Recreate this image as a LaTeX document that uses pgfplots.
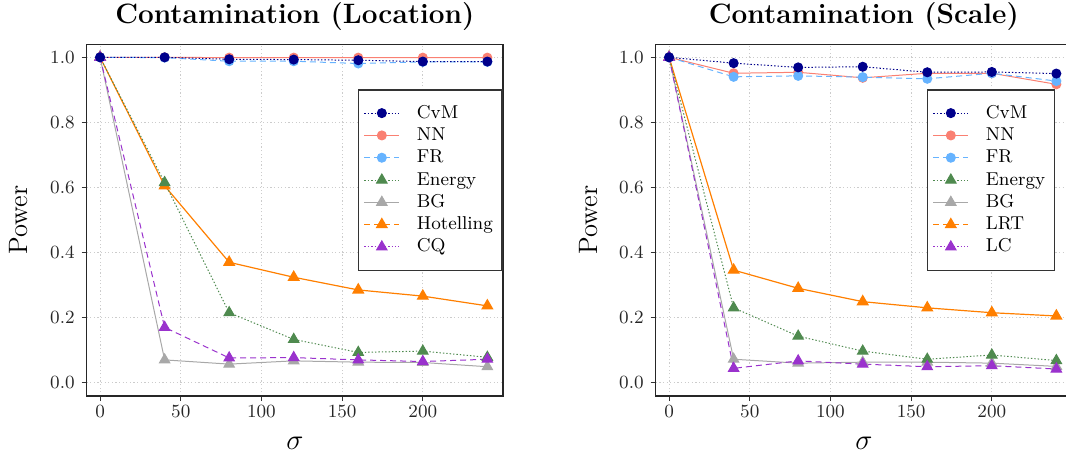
\documentclass[border=0pt]{standalone}
\usepackage{fontspec}
\usepackage{pgfplots}
\usepackage{pgfplotstable}
\pgfplotsset{compat=1.18}

\definecolor{cvmc}{HTML}{00008B}
\definecolor{nnc}{HTML}{FA8072}
\definecolor{frc}{HTML}{66B3FF}
\definecolor{enc}{HTML}{4F8A4F}
\definecolor{bgc}{HTML}{A8A8A8}
\definecolor{hoc}{HTML}{FF7F00}
\definecolor{cqc}{HTML}{9A32CD}

% power by sigma, location contamination
\pgfplotstableread{
s   CvM   NN    FR    En    BG    Ho    CQ
0   1.000 1.000 1.000 1.000 1.000 1.000 1.000
40  1.000 1.000 0.999 0.615 0.070 0.605 0.170
80  0.994 0.999 0.988 0.215 0.057 0.370 0.076
120 0.993 0.999 0.988 0.133 0.067 0.324 0.077
160 0.991 0.999 0.981 0.093 0.063 0.285 0.070
200 0.987 0.999 0.986 0.097 0.062 0.266 0.065
240 0.987 0.999 0.986 0.078 0.049 0.236 0.072
}\loc

% power by sigma, scale contamination
\pgfplotstableread{
s   CvM   NN    FR    En    BG    LRT   LC
0   1.000 1.000 1.000 1.000 1.000 1.000 1.000
40  0.982 0.951 0.940 0.230 0.072 0.346 0.044
80  0.969 0.954 0.943 0.143 0.060 0.290 0.067
120 0.971 0.937 0.939 0.097 0.063 0.249 0.057
160 0.954 0.951 0.934 0.072 0.063 0.230 0.049
200 0.955 0.951 0.951 0.085 0.060 0.215 0.052
240 0.950 0.917 0.927 0.068 0.050 0.205 0.042
}\scl

\pgfplotsset{
  dotline/.style={dash pattern=on 0.7pt off 1pt},
  dashline/.style={dash pattern=on 3pt off 2pt},
  cvm/.style={color=cvmc, dotline, line width=0.5pt, mark=*, mark size=2.25pt, mark options={solid}},
  nn/.style={color=nnc, solid, line width=0.5pt, mark=*, mark size=2.25pt, mark options={solid}},
  fr/.style={color=frc, dashline, line width=0.5pt, mark=*, mark size=2.25pt, mark options={solid}},
  en/.style={color=enc, dotline, line width=0.5pt, mark=triangle*, mark size=3pt, mark options={solid}},
  bg/.style={color=bgc, solid, line width=0.5pt, mark=triangle*, mark size=3pt, mark options={solid}},
  ho/.style={color=hoc, solid, line width=0.6pt, mark=triangle*, mark size=3pt, mark options={solid}},
  cq/.style={color=cqc, dashline, line width=0.5pt, mark=triangle*, mark size=3pt, mark options={solid}},
  panel/.style={
    scale only axis, width=208.15pt, height=175.85pt,
    xmin=-8.3, xmax=249.7, ymin=-0.041, ymax=1.04,
    xtick={0,50,100,150,200}, ytick={0,0.2,0.4,0.6,0.8,1},
    /pgf/number format/assume math mode=true,
    yticklabel={\pgfmathprintnumber[fixed,fixed zerofill,precision=1]{\tick}},
    tick align=outside, xtick pos=bottom, ytick pos=left,
    major tick length=2.5pt,
    tick style={black!80, line width=0.5pt},
    grid=major, major grid style={dash pattern=on 0.6pt off 1.2pt, black!20, line width=0.4pt},
    axis line style={black!85, line width=0.6pt},
    ticklabel style={font=\fontsize{9.3}{11}\selectfont, black!85},
    xticklabel style={yshift=1.5pt},
    every axis title shift=0pt,
    title style={at={(0.5,1)}, anchor=base, yshift=10.5pt, font=\fontsize{14}{16}\selectfont\bfseries},
    every axis x label/.style={at={(axis description cs:0.5,0)}, anchor=base, yshift=-26.7pt, font=\fontsize{14.4}{17}\selectfont},
    every axis y label/.style={at={([xshift=-29.35pt]axis description cs:0,0.5)}, rotate=90, anchor=base, font=\fontsize{13.3}{15}\selectfont},
    xlabel={$\sigma$}, ylabel={Power},
    legend cell align=left,
    legend image code/.code={\draw[mark repeat=2,mark phase=2,##1] plot coordinates {(0pt,0pt) (8.75pt,0pt) (17.5pt,0pt)};},
    legend style={at={(0.652,0.872)}, anchor=north west, draw=black!80, line width=0.6pt, fill=white,
      inner xsep=2.5pt, inner ysep=6.6pt, font=\fontsize{9.3}{11}\selectfont,
      nodes={inner xsep=2pt, inner ysep=0pt, text height=7.5pt, text depth=2.5pt},
      /tikz/column sep=6.5pt, /tikz/row sep=1.15pt},
  },
}

\begin{document}
\begin{tikzpicture}
\useasboundingbox (0,0) rectangle (533pt,-227.5pt);
\clip (0,0) rectangle (533pt,-227.5pt);

\begin{axis}[panel, at={(43.35pt,-198pt)}, anchor=south west,
  title={Contamination (Location)}]
  \addlegendimage{cvm}\addlegendentry{CvM}
  \addlegendimage{nn}\addlegendentry{NN}
  \addlegendimage{fr}\addlegendentry{FR}
  \addlegendimage{en}\addlegendentry{Energy}
  \addlegendimage{bg}\addlegendentry{BG}
  \addlegendimage{ho, dashline}\addlegendentry{Hotelling}
  \addlegendimage{cq, dotline}\addlegendentry{CQ}
  \addplot[nn, forget plot] table[x=s, y=NN] {\loc};
  \addplot[fr, forget plot] table[x=s, y=FR] {\loc};
  \addplot[bg, forget plot] table[x=s, y=BG] {\loc};
  \addplot[ho, forget plot] table[x=s, y=Ho] {\loc};
  \addplot[en, forget plot] table[x=s, y=En] {\loc};
  \addplot[cq, forget plot] table[x=s, y=CQ] {\loc};
  \addplot[cvm, forget plot] table[x=s, y=CvM] {\loc};
\end{axis}

\begin{axis}[panel, at={(327.85pt,-198pt)}, anchor=south west,
  title={Contamination (Scale)}]
  \addlegendimage{cvm}\addlegendentry{CvM}
  \addlegendimage{nn}\addlegendentry{NN}
  \addlegendimage{fr}\addlegendentry{FR}
  \addlegendimage{en}\addlegendentry{Energy}
  \addlegendimage{bg}\addlegendentry{BG}
  \addlegendimage{ho, dashline}\addlegendentry{LRT}
  \addlegendimage{cq, dotline}\addlegendentry{LC}
  \addplot[nn, forget plot] table[x=s, y=NN] {\scl};
  \addplot[fr, forget plot] table[x=s, y=FR] {\scl};
  \addplot[bg, forget plot] table[x=s, y=BG] {\scl};
  \addplot[ho, forget plot] table[x=s, y=LRT] {\scl};
  \addplot[en, forget plot] table[x=s, y=En] {\scl};
  \addplot[cq, forget plot] table[x=s, y=LC] {\scl};
  \addplot[cvm, forget plot] table[x=s, y=CvM] {\scl};
\end{axis}
\end{tikzpicture}
\end{document}
